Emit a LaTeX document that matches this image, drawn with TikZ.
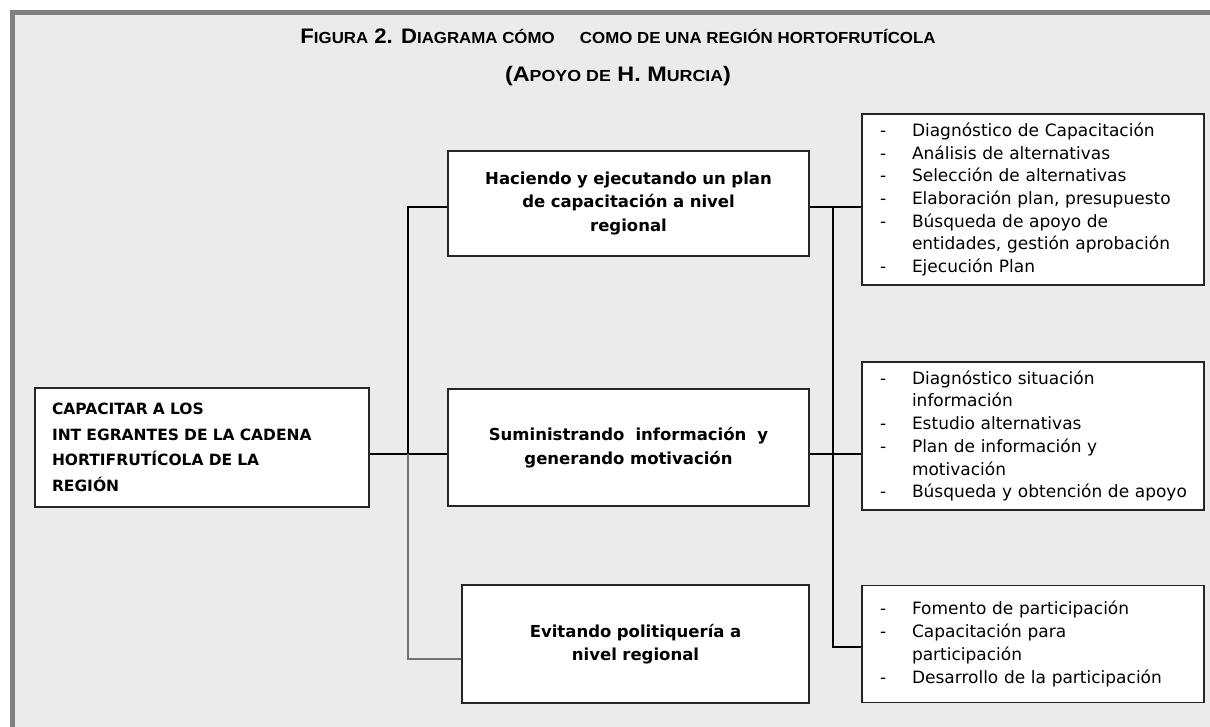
\documentclass[tikz,border=0pt]{standalone}
\usepackage{fontspec}
\setmainfont{DejaVu Sans}
\newfontfamily\titulo{Liberation Sans}
\usetikzlibrary{positioning}
\definecolor{fondo}{HTML}{EBEBEB}
\definecolor{marco}{HTML}{808080}
\newcommand{\guion}[1]{\hspace*{8pt}\makebox[32pt][l]{-}#1}
\newcommand{\sigue}[1]{\hspace*{40pt}#1}
\newcommand{\pc}[1]{{\fontsize{16}{16}\selectfont #1}}
\tikzset{
  caja/.style={draw=black!85, line width=1.3pt, fill=white, inner sep=0pt},
  accion/.style={caja, font=\bfseries\fontsize{16.5}{23.5}\selectfont, align=center, text width=345pt, minimum width=361pt},
  lista/.style={caja, font=\fontsize{17}{22.7}\selectfont, align=left, inner xsep=10pt, text width=322pt},
  titular/.style={font=\titulo\bfseries\fontsize{21}{21}\selectfont, anchor=base},
  linea/.style={line width=1.6pt}
}
\begin{document}
\begin{tikzpicture}[x=1pt,y=-1pt]
  \useasboundingbox (0,0) rectangle (1210,727);
  % fondo y marco
  \fill[fondo] (15,15) rectangle (1210,727);
  \fill[marco] (10,10) rectangle (1210,15);
  \fill[marco] (10,10) rectangle (15,727);

  \node[titular] (figura) at (618,44) {\resizebox{635pt}{\height}{F\pc{IGURA} 2. D\pc{IAGRAMA CÓMO}\hspace{24pt}\pc{COMO DE UNA REGIÓN HORTOFRUTÍCOLA}}};
  \node[titular] (apoyo) at (618,82) {\resizebox{226pt}{\height}{(A\pc{POYO DE} H. M\pc{URCIA})}};

  \node[caja, font=\bfseries\fontsize{15.5}{25.7}\selectfont, align=left, inner xsep=17pt, text width=300pt, minimum height=119pt] (capacitar) at (202,447.5)
    {CAPACITAR A LOS\\ INT EGRANTES DE LA CADENA\\ HORTIFRUTÍCOLA DE LA\\ REGIÓN};

  \node[accion, minimum height=105pt] (haciendo) at (628.5,203.5) {Haciendo y ejecutando un plan\\ de capacitación a nivel\\ regional};
  \node[accion, minimum height=117pt] (suministrando) at (628.5,447.5) {Suministrando\ \ información\ \ y\\ generando motivación};
  \node[accion, text width=331pt, minimum width=347pt, minimum height=118pt] (evitando) at (635.5,644) {Evitando politiquería a\\ nivel regional};

  \node[lista, minimum height=171pt] (plan) at (1033,199.5) {\guion{Diagnóstico de Capacitación}\\ \guion{Análisis de alternativas}\\ \guion{Selección de alternativas}\\ \guion{Elaboración plan, presupuesto}\\ \guion{Búsqueda de apoyo de}\\ \sigue{entidades, gestión aprobación}\\ \guion{Ejecución Plan}};
  \node[lista, minimum height=148pt] (informacion) at (1033,436) {\guion{Diagnóstico situación}\\ \sigue{información}\\ \guion{Estudio alternativas}\\ \guion{Plan de información y}\\ \sigue{motivación}\\ \guion{Búsqueda y obtención de apoyo}};
  \node[lista, minimum height=117pt] (participacion) at (1033,644) {\guion{Fomento de participación}\\ \guion{Capacitación para}\\ \sigue{participación}\\ \guion{Desarrollo de la participación}};

  \coordinate (ramaA) at (408,207);
  \coordinate (ramaB) at (408,454);
  \coordinate (ramaC) at (408,659);
  \coordinate (subA) at (833,207);
  \coordinate (subC) at (833,647);

  \draw[linea] (haciendo.west |- ramaA) -- (ramaA) -- (ramaB);
  \draw[linea] (capacitar.east |- ramaB) -- (suministrando.west |- ramaB);
  \draw[linea, black!55] (ramaB) -- (ramaC) -- (evitando.west |- ramaC);
  \draw[linea] (haciendo.east |- subA) -- (plan.west |- subA);
  \draw[linea] (subA) -- (subC) -- (participacion.west |- subC);
  \draw[linea] (suministrando.east |- ramaB) -- (informacion.west |- ramaB);
\end{tikzpicture}
\end{document}
